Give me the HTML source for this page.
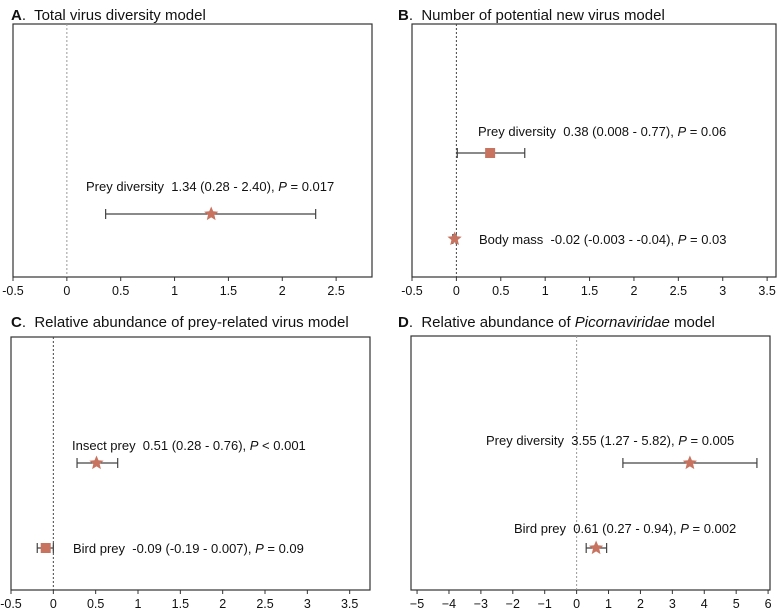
<!DOCTYPE html>
<html><head><meta charset="utf-8">
<style>
body{margin:0;background:#fff;width:778px;height:609px;overflow:hidden;font-family:"Liberation Sans",Arial,sans-serif}
svg text{font-family:"Liberation Sans",Arial,sans-serif;fill:#111;white-space:pre}
</style></head>
<body>
<svg id="chart" width="778" height="609" viewBox="0 0 778 609" xmlns="http://www.w3.org/2000/svg" xml:space="preserve"></svg>
<script>
// Panel A data
const aLabels = ["Prey diversity  1.34 (0.28 - 2.40), "];
const aP = ["= 0.017"];
const aEst = [1.34];
const aLo = [0.36];
const aHi = [2.31];
const aMarker = ["star"];
const aTicks = ["-0.5","0","0.5","1","1.5","2","2.5"];
// Panel B data
const bLabels = ["Prey diversity  0.38 (0.008 - 0.77), ","Body mass  -0.02 (-0.003 - -0.04), "];
const bP = ["= 0.06","= 0.03"];
const bEst = [0.38,-0.02];
const bLo = [0.01,-0.04];
const bHi = [0.77,-0.003];
const bMarker = ["square","star"];
const bTicks = ["-0.5","0","0.5","1","1.5","2","2.5","3","3.5"];
// Panel C data
const cLabels = ["Insect prey  0.51 (0.28 - 0.76), ","Bird prey  -0.09 (-0.19 - 0.007), "];
const cP = ["< 0.001","= 0.09"];
const cEst = [0.51,-0.09];
const cLo = [0.28,-0.19];
const cHi = [0.76,0.0];
const cMarker = ["star","square"];
const cTicks = ["-0.5","0","0.5","1","1.5","2","2.5","3","3.5"];
// Panel D data
const dLabels = ["Prey diversity  3.55 (1.27 - 5.82), ","Bird prey  0.61 (0.27 - 0.94), "];
const dP = ["= 0.005","= 0.002"];
const dEst = [3.55,0.61];
const dLo = [1.45,0.3];
const dHi = [5.65,0.94];
const dMarker = ["star","star"];
const dTicks = ["\u22125","\u22124","\u22123","\u22122","\u22121","0","1","2","3","4","5","6"];

const NS="http://www.w3.org/2000/svg";
const svg=document.getElementById('chart');
function mk(tag,attrs,parent){const e=document.createElementNS(NS,tag);for(const k in attrs)e.setAttribute(k,attrs[k]);(parent||svg).appendChild(e);return e;}

const panels=[
 {id:'a',letter:'A',title:'Total virus diversity model',tx:11,ty:15,box:[13,24,372,277],x0:-0.5,x1:2.833,tick0:-0.5,step:0.5,
  ticks:aTicks,labels:aLabels,p:aP,est:aEst,lo:aLo,hi:aHi,mk:aMarker,rows:[214],lab:[{x:86,y:191,anchor:'start'}],dash:'#999'},
 {id:'b',letter:'B',title:'Number of potential new virus model',tx:398,ty:15,box:[412,24,776,277],x0:-0.5,x1:3.6,tick0:-0.5,step:0.5,
  ticks:bTicks,labels:bLabels,p:bP,est:bEst,lo:bLo,hi:bHi,mk:bMarker,rows:[153,239],lab:[{x:478,y:136,anchor:'start'},{x:479,y:244,anchor:'start'}],dash:'#444'},
 {id:'c',letter:'C',title:'Relative abundance of prey-related virus model',tx:11,ty:322,box:[11,337,370,590],x0:-0.5,x1:3.74,tick0:-0.5,step:0.5,
  ticks:cTicks,labels:cLabels,p:cP,est:cEst,lo:cLo,hi:cHi,mk:cMarker,rows:[463,548],lab:[{x:72,y:450,anchor:'start'},{x:73,y:553,anchor:'start'}],dash:'#444'},
 {id:'d',letter:'D',title:'Relative abundance of ',titleIt:'Picornaviridae',titleEnd:' model',tx:398,ty:322,box:[411,336,770,590],x0:-5.19,x1:6.06,tick0:-5,step:1,
  ticks:dTicks,labels:dLabels,p:dP,est:dEst,lo:dLo,hi:dHi,mk:dMarker,rows:[463,548],lab:[{x:486,y:445,anchor:'start'},{x:514,y:533,anchor:'start'}],dash:'#999'}
];

function star(g,cx,cy,r){let pts=[];for(let i=0;i<10;i++){const a=-Math.PI/2+i*Math.PI/5;const rr=i%2?r*0.45:r;pts.push((cx+rr*Math.cos(a)).toFixed(1)+','+(cy+rr*Math.sin(a)).toFixed(1));}
 const s=mk('polygon',{points:pts.join(' '),fill:'#c8735f'},g);return s;}

panels.forEach(P=>{
 const g=mk('g',{});
 
 
 const [L,T,R,B]=P.box;
 const sx=v=>L+(v-P.x0)/(P.x1-P.x0)*(R-L);
 const t=mk('text',{x:P.tx,y:P.ty+5,'font-size':'15'},g);
 
 
 const b=mk('tspan',{'font-weight':'bold'},t);b.textContent=P.letter;
 const r1=mk('tspan',{},t);r1.textContent='.  '+P.title;
 if(P.titleIt){const it=mk('tspan',{'font-style':'italic'},t);it.textContent=P.titleIt;const e=mk('tspan',{},t);e.textContent=P.titleEnd;}
 const frame=mk('rect',{x:L,y:T,width:R-L,height:B-T,fill:'none',stroke:'#333','stroke-width':'1.2'},g);
 
 
 const z=mk('line',{x1:sx(0),x2:sx(0),y1:T,y2:B,stroke:P.dash,'stroke-width':'1','stroke-dasharray':'2,2'},g);
 
 
 const ax=mk('g',{},g);
 
 
 P.ticks.forEach((lab,i)=>{
  const v=P.tick0+i*P.step, x=sx(v);
  mk('line',{x1:x,x2:x,y1:B,y2:B+4,stroke:'#333','stroke-width':'1'},ax);
  const tl=mk('text',{x:x,y:B+18,'font-size':'12.5','text-anchor':'middle'},ax);
  
  
  tl.textContent=lab;
 });
 P.est.forEach((e,i)=>{
  const y=P.rows[i];
  const rg=mk('g',{},g);
  
  
  const x1=sx(P.lo[i]),x2=sx(P.hi[i]);
  mk('line',{x1:x1,x2:x2,y1:y,y2:y,stroke:'#444','stroke-width':'1.2'},rg);
  mk('line',{x1:x1,x2:x1,y1:y-5,y2:y+5,stroke:'#444','stroke-width':'1.2'},rg);
  mk('line',{x1:x2,x2:x2,y1:y-5,y2:y+5,stroke:'#444','stroke-width':'1.2'},rg);
  if(P.mk[i]==='star') star(rg,sx(e),y,7.5);
  else mk('rect',{x:sx(e)-5,y:y-5,width:10,height:10,fill:'#c8735f'},rg);
  const lb=P.lab[i];
  const tx=mk('text',{x:lb.x,y:lb.y,'font-size':'13','text-anchor':lb.anchor},rg);
  
  
  const a=mk('tspan',{},tx);a.textContent=P.labels[i];
  const pi=mk('tspan',{'font-style':'italic'},tx);pi.textContent='P';
  const pv=mk('tspan',{},tx);pv.textContent=' '+P.p[i];
 });
});
</script>
</body></html>
